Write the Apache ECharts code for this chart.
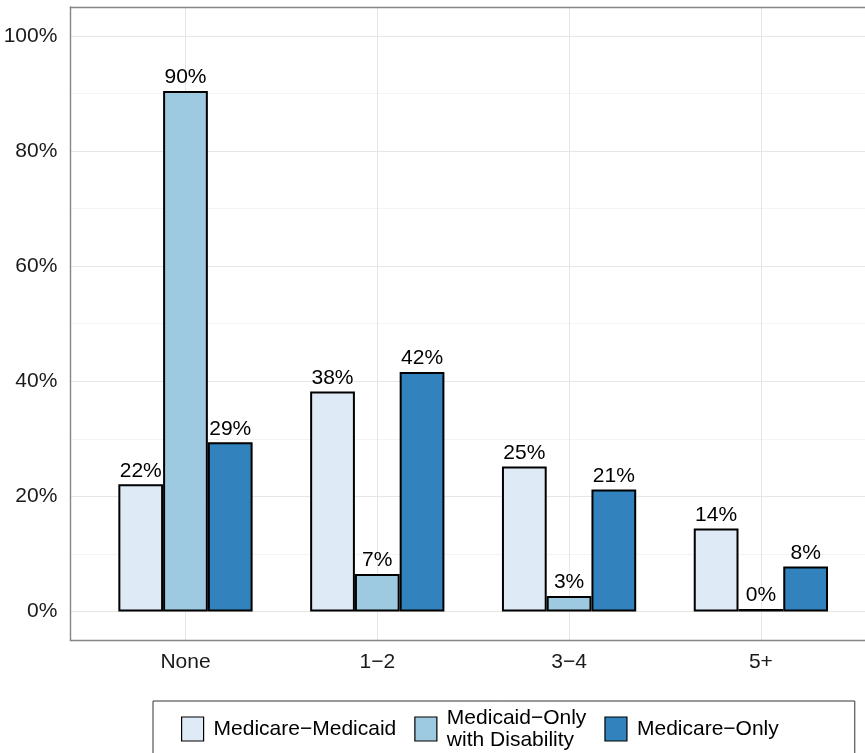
<!DOCTYPE html>
<html>
<head>
<meta charset="utf-8">
<script src="https://cdn.jsdelivr.net/npm/echarts@6/dist/echarts.min.js"></script>
<style>
  html, body { margin: 0; padding: 0; background: #fff; }
  #chart { width: 865px; height: 753px; }
</style>
</head>
<body>
<div id="chart"></div>
<script>
const categories = ['None', '1\u22122', '3\u22124', '5+'];
const medicareMedicaid = [22.1, 38.2, 25.2, 14.4];
const medicaidOnlyDisability = [90.4, 6.5, 2.7, 0.45];
const medicareOnly = [29.4, 41.6, 21.2, 7.8];
const yTicks = [0, 20, 40, 60, 80, 100];
const seriesNames = ['Medicare\u2212Medicaid', 'Medicaid\u2212Only\nwith Disability', 'Medicare\u2212Only'];
const seriesColors = ['#deebf7', '#9ecae1', '#3182bd'];

const FONT = "'Liberation Sans', Arial, sans-serif";

// layout (pixels)
const panelLeft = 70.4, panelTop = 7, panelHeight = 633.3;
const band = 191.8;
const panelWidth = band * 4.2;
const unit = panelHeight / 110; // px per percent

const chart = echarts.init(document.getElementById('chart'), null, { renderer: 'canvas' });

const labelStyle = {
  show: true,
  position: 'top',
  distance: 3,
  fontFamily: FONT,
  fontSize: 21,
  color: '#000',
  formatter: p => Math.round(p.value) + '%'
};

const borderLine = { show: true, onZero: false, lineStyle: { color: '#858585', width: 1.4 } };

const dataSets = [medicareMedicaid, medicaidOnlyDisability, medicareOnly];

const option = {
  animation: false,
  textStyle: { fontFamily: FONT },
  grid: [
    // 0: panel border (left, top, bottom)
    { left: panelLeft, top: panelTop, width: panelWidth, height: panelHeight },
    // 1: horizontal gridlines + y labels (0..100)
    { left: panelLeft, top: panelTop + 5 * unit, width: panelWidth, height: 100 * unit },
    // 2: vertical gridlines + x labels
    { left: panelLeft + 0.6 * band, top: panelTop, width: 3 * band, height: panelHeight },
    // 3: bars
    { left: panelLeft + 0.1 * band, top: panelTop, width: 4 * band, height: panelHeight }
  ],
  xAxis: [
    { gridIndex: 0, type: 'value', position: 'bottom', min: 0, max: 1,
      axisLine: borderLine, axisTick: { show: false }, axisLabel: { show: false }, splitLine: { show: false } },
    { gridIndex: 1, type: 'value', show: false },
    { gridIndex: 2, type: 'category', data: categories, boundaryGap: false,
      axisLine: { show: false }, axisTick: { show: false },
      axisLabel: { fontSize: 21, color: '#1a1a1a', margin: 11, fontFamily: FONT },
      splitLine: { show: true, lineStyle: { color: '#e6e6e6', width: 1 } } },
    { gridIndex: 3, type: 'category', data: categories, boundaryGap: true, show: false },
    { gridIndex: 0, type: 'value', position: 'top', min: 0, max: 1,
      axisLine: borderLine, axisTick: { show: false }, axisLabel: { show: false }, splitLine: { show: false } }
  ],
  yAxis: [
    { gridIndex: 0, type: 'value', position: 'left', min: -5, max: 105,
      axisLine: borderLine, axisTick: { show: false }, axisLabel: { show: false }, splitLine: { show: false } },
    { gridIndex: 1, type: 'value', min: 0, max: 100, interval: 20,
      axisLine: { show: false }, axisTick: { show: false },
      axisLabel: { fontSize: 21, color: '#1a1a1a', margin: 13, fontFamily: FONT,
        customValues: yTicks, formatter: v => v + '%' },
      splitLine: { show: true, lineStyle: { color: '#e6e6e6', width: 1 } },
      minorTick: { show: false, splitNumber: 2 },
      minorSplitLine: { show: true, lineStyle: { color: '#f3f3f3', width: 1 } } },
    { gridIndex: 2, type: 'value', show: false, min: -5, max: 105 },
    { gridIndex: 3, type: 'value', show: false, min: -5, max: 105 }
  ],
  legend: {
    left: 153,
    top: 701,
    orient: 'horizontal',
    padding: [6, 76, 20, 28],
    borderColor: '#333',
    borderWidth: 1,
    itemWidth: 22,
    itemHeight: 24,
    itemGap: 18,
    icon: 'rect',
    itemStyle: { borderColor: '#000', borderWidth: 1.2 },
    textStyle: { fontFamily: FONT, fontSize: 21, color: '#000', lineHeight: 22, padding: [0, 0, 0, 5] },
    data: seriesNames
  },
  series: dataSets.map((d, i) => ({
    name: seriesNames[i],
    type: 'bar',
    xAxisIndex: 3,
    yAxisIndex: 3,
    data: d,
    barCategoryGap: '30%',
    barGap: '0%',
    itemStyle: { color: seriesColors[i], borderColor: '#000', borderWidth: 2 },
    label: labelStyle
  }))
};

chart.setOption(option);
</script>
</body>
</html>
